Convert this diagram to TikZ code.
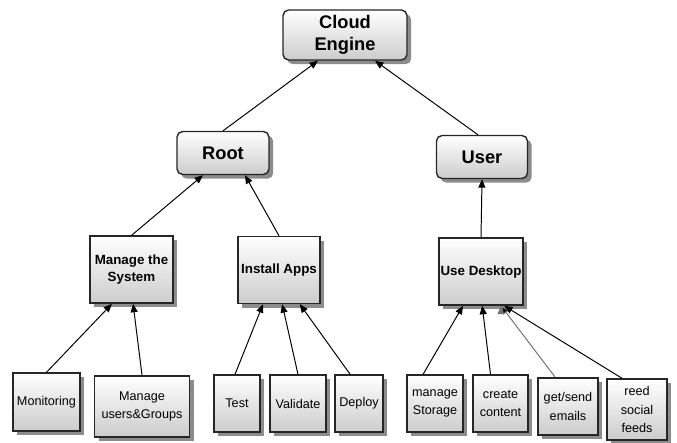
\documentclass[tikz,border=0pt]{standalone}
\usepackage{fontspec}
\setmainfont{Liberation Sans}
\usetikzlibrary{arrows.meta,shadows}

\tikzset{
  box/.style={shape=rectangle, draw=black!85, line width=1pt, top color=white, bottom color=black!20,
    drop shadow={shadow xshift=3pt, shadow yshift=-3pt, fill=black!45, opacity=1},
    align=center, inner sep=1pt},
  topbox/.style={box, rounded corners=4pt, font=\fontsize{13}{16}\selectfont\bfseries},
  midbox/.style={box, font=\fontsize{9.5}{12}\selectfont\bfseries},
  leafbox/.style={box, font=\fontsize{9}{13}\selectfont},
  link/.style={line width=0.7pt, {Triangle[length=6pt,width=5pt]}-}
}

\begin{document}
\begin{tikzpicture}
  \useasboundingbox (0,0) rectangle (16.925,-11.05);

  \node[topbox, minimum width=3.1cm, minimum height=1.25cm] (cloud) at (8.625,-0.875) {Cloud\\Engine};
  \node[topbox, minimum width=2.3cm, minimum height=1.075cm] (root) at (5.575,-3.825) {Root};
  \node[topbox, minimum width=2.275cm, minimum height=1.075cm] (user) at (12.05,-3.925) {User};

  \node[midbox, minimum width=2.075cm, minimum height=1.675cm] (manage) at (3.2875,-6.74) {Manage the\\System};
  \node[midbox, minimum width=2.05cm, minimum height=1.675cm] (install) at (6.975,-6.75) {Install Apps};
  \node[midbox, minimum width=2.075cm, minimum height=1.675cm] (desktop) at (12.025,-6.79) {Use Desktop};

  \node[leafbox, minimum width=1.675cm, minimum height=1.45cm] (monitor) at (1.1625,-10.05) {Monitoring};
  \node[leafbox, minimum width=2.375cm, minimum height=1.525cm] (users) at (3.55,-10.16) {Manage\\users\&Groups};
  \node[leafbox, minimum width=1.15cm, minimum height=1.425cm] (test) at (5.925,-10.09) {Test};
  \node[leafbox, minimum width=1.4cm, minimum height=1.425cm] (validate) at (7.45,-10.09) {Validate};
  \node[leafbox, minimum width=1.2cm, minimum height=1.425cm] (deploy) at (8.975,-10.09) {Deploy};
  \node[leafbox, minimum width=1.4cm, minimum height=1.425cm] (storage) at (10.875,-10.09) {manage\\Storage};
  \node[leafbox, minimum width=1.375cm, minimum height=1.425cm] (create) at (12.5125,-10.09) {create\\content};
  \node[leafbox, minimum width=1.5cm, minimum height=1.425cm] (emails) at (14.2,-10.16) {get/send\\emails};
  \node[leafbox, minimum width=1.5cm, minimum height=1.525cm] (feeds) at (15.925,-10.24) {reed\\social\\feeds};

  \path [link]([xshift=-0.675cm]cloud.south) edge (root.north);
  \path [link]([xshift=0.75cm]cloud.south) edge ([xshift=-0.1cm]user.north);

  \path [link]([xshift=-0.5cm]root.south) edge (manage.north);
  \path [link]([xshift=0.55cm]root.south) edge (install.north);
  \path [link](user.south) edge (desktop.north);

  \path [link]([xshift=-0.49cm]manage.south) edge (monitor.north);
  \path [link]([xshift=0.04cm]manage.south) edge (users.north);
  \path [link]([xshift=-0.4cm]install.south) edge ([xshift=-0.05cm]test.north);
  \path [link]([xshift=0.08cm]install.south) edge (validate.north);
  \path [link]([xshift=0.52cm]install.south) edge ([xshift=-0.22cm]deploy.north);
  \path [link]([xshift=-0.45cm]desktop.south) edge ([xshift=-0.3cm]storage.north);
  \path [link]([xshift=0.03cm]desktop.south) edge ([xshift=-0.25cm]create.north);
  \path [link, draw=black!55]([xshift=0.5cm]desktop.south) edge ([xshift=-0.32cm]emails.north);
  \path [link]([xshift=0.58cm]desktop.south) edge ([xshift=-0.37cm]feeds.north);
\end{tikzpicture}
\end{document}
